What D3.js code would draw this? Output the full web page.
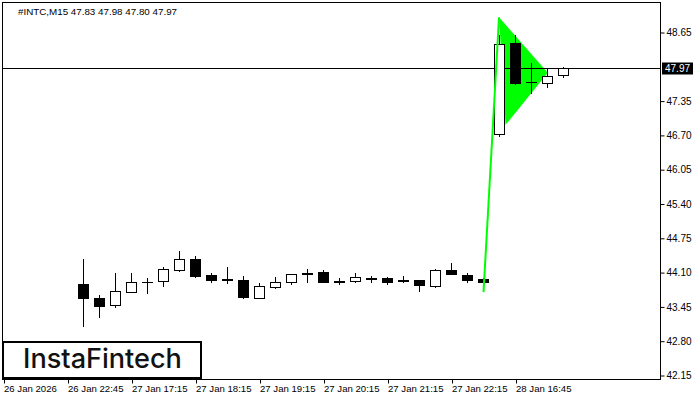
<!DOCTYPE html>
<html>
<head>
<meta charset="utf-8">
<script src="https://cdn.jsdelivr.net/npm/d3@7"></script>
<style>
  html, body { margin: 0; padding: 0; background: #fff; }
  svg { display: block; }
  text { font-family: "Liberation Sans", Arial, sans-serif; }
  text.logo { font-family: Inter, Lato, sans-serif; font-weight: 500; }
</style>
</head>
<body>
<svg id="chart" width="700" height="400"></svg>
<script>
// ---- data ----
const symbolTitle = "#INTC,M15  47.83 47.98 47.80 47.97";
const opens  = [43.88,43.61,43.48,43.73,43.91,43.93,44.14,44.35,44.05,43.97,43.95,43.61,43.82,43.92,44.08,44.10,43.93,43.93,43.99,43.99,43.95,43.95,43.84,44.14,44.05,43.97,46.71,48.45,47.70,47.68,47.83];
const highs  = [44.35,43.66,44.09,44.09,43.99,44.20,44.50,44.40,44.08,44.20,44.03,43.90,44.01,44.07,44.16,44.14,43.99,44.08,44.03,44.01,44.03,43.95,44.16,44.27,44.08,43.98,48.59,48.59,48.07,47.96,47.98];
const lows   = [43.08,43.25,43.44,43.72,43.71,43.84,44.12,44.01,43.91,43.90,43.61,43.61,43.80,43.88,43.91,43.91,43.88,43.91,43.91,43.88,43.91,43.75,43.82,44.07,43.91,43.91,46.67,47.67,47.49,47.60,47.80];
const closes = [43.61,43.46,43.75,43.92,43.92,44.16,44.35,44.03,43.95,43.95,43.63,43.84,43.92,44.07,44.07,43.92,43.92,44.01,43.97,43.92,43.93,43.86,44.14,44.07,43.95,43.92,48.42,47.69,47.71,47.81,47.97];
const currentPrice = 47.97;
const yTickValues = [48.65, 47.35, 46.70, 46.05, 45.40, 44.75, 44.10, 43.45, 42.80, 42.15];
const xTickBars   = [-5, -1, 3, 7, 11, 15, 19, 23, 27];
const xTickLabels = ["26 Jan 2026","26 Jan 22:45","27 Jan 17:15","27 Jan 18:15","27 Jan 19:15","27 Jan 20:15","27 Jan 21:15","27 Jan 22:15","28 Jan 16:45"];
// bullish pennant: pole (bar index, price) and triangle vertices
const poleBars   = [25, 25.97];
const polePrices = [43.72, 48.93];
const flagBars   = [25.97, 26.38, 29.02];
const flagPrices = [48.93, 46.89, 47.88];
const logoText = "InstaFintech";

// ---- layout ----
const L = 2, T = 2, R = 660, B = 379;
const svg = d3.select("#chart");
const x = d3.scaleLinear().domain([-5.0625, 36.0625]).range([L, R]);
const y = d3.scaleLinear().domain([42.15, 48.65]).range([375, 32]);
const px = v => Math.round(y(v));

svg.append("rect").attr("width", 700).attr("height", 400).attr("fill", "#fff");

// triangle (behind candles)
svg.append("polygon")
  .attr("points", flagBars.map((b, i) => [x(b) + 0.5, y(flagPrices[i])].join(",")).join(" "))
  .attr("fill", "#00ff00");

// current price line
svg.append("line")
  .attr("x1", L).attr("x2", R)
  .attr("y1", px(currentPrice) + 0.5).attr("y2", px(currentPrice) + 0.5)
  .attr("stroke", "#000").attr("stroke-width", 1);

// candles
const idx = d3.range(opens.length);
const g = svg.append("g");
g.selectAll("line.wick").data(idx).join("line")
  .attr("class", "wick")
  .attr("x1", i => x(i) + 0.5).attr("x2", i => x(i) + 0.5)
  .attr("y1", i => px(highs[i])).attr("y2", i => px(lows[i]) + 1)
  .attr("stroke", "#000").attr("stroke-width", 1);
g.selectAll("rect.body").data(idx).join("rect")
  .attr("class", "body")
  .each(function(i) {
    const top = px(Math.max(opens[i], closes[i]));
    const bot = px(Math.min(opens[i], closes[i]));
    const cx = x(i);
    const s = d3.select(this);
    if (closes[i] >= opens[i] && bot - top >= 2) {
      s.attr("x", cx - 4.5).attr("y", top + 0.5).attr("width", 10).attr("height", bot - top)
       .attr("fill", "#fff").attr("stroke", "#000").attr("stroke-width", 1);
    } else {
      s.attr("x", cx - 5).attr("y", top).attr("width", 11).attr("height", Math.max(1, bot - top + 1))
       .attr("fill", "#000");
    }
  });

// pole
svg.append("line")
  .attr("x1", x(poleBars[0]) + 0.5).attr("y1", y(polePrices[0]))
  .attr("x2", x(poleBars[1]) + 0.5).attr("y2", y(polePrices[1]))
  .attr("stroke", "#00ff00").attr("stroke-width", 2);

// frame
svg.append("rect").attr("x", L + 0.5).attr("y", T + 0.5).attr("width", R - L).attr("height", B - T)
  .attr("fill", "none").attr("stroke", "#000").attr("stroke-width", 1);

// right axis
const yAxis = d3.axisRight(y).tickValues(yTickValues).tickFormat(d3.format(".2f")).tickSize(4).tickPadding(2);
const ya = svg.append("g").attr("transform", `translate(${R + 0.5},0.5)`).call(yAxis);
ya.select(".domain").remove();
ya.selectAll("text").attr("font-family", null).attr("font-size", 10).attr("fill", "#000");
ya.selectAll("line").attr("stroke", "#000");

// current price label
const cy = px(currentPrice) + 0.5;
svg.append("rect").attr("x", R + 2).attr("y", cy - 6).attr("width", 31).attr("height", 12).attr("fill", "#000");
svg.append("text").attr("x", R + 5).attr("y", cy + 3.5).attr("font-size", 10).attr("fill", "#fff")
  .text(d3.format(".2f")(currentPrice));

// bottom axis
const xa = svg.append("g").attr("transform", `translate(0.5,${B + 0.5})`);
xa.selectAll("line").data(xTickBars).join("line")
  .attr("x1", d => Math.round(x(d)) + 1).attr("x2", d => Math.round(x(d)) + 1)
  .attr("y1", 0).attr("y2", 4).attr("stroke", "#000");
xa.selectAll("text").data(xTickBars).join("text")
  .attr("x", d => Math.round(x(d)) + 0.5).attr("y", 12.5)
  .attr("font-size", 9.6).attr("fill", "#000")
  .text((d, i) => xTickLabels[i]);

// title
svg.append("text").attr("x", 18).attr("y", 14.5).attr("font-size", 9.8).attr("fill", "#000")
  .text(symbolTitle);

// logo
svg.append("rect").attr("x", 3).attr("y", 342).attr("width", 198).attr("height", 36)
  .attr("fill", "#fff").attr("stroke", "#000").attr("stroke-width", 2);
const lt = svg.append("text").attr("class", "logo").attr("x", 23).attr("y", 367.5)
  .attr("font-size", 24).attr("fill", "#111").text(logoText);
const w = lt.node().getComputedTextLength();
lt.attr("font-size", 24 * 159 / w);
</script>
</body>
</html>
